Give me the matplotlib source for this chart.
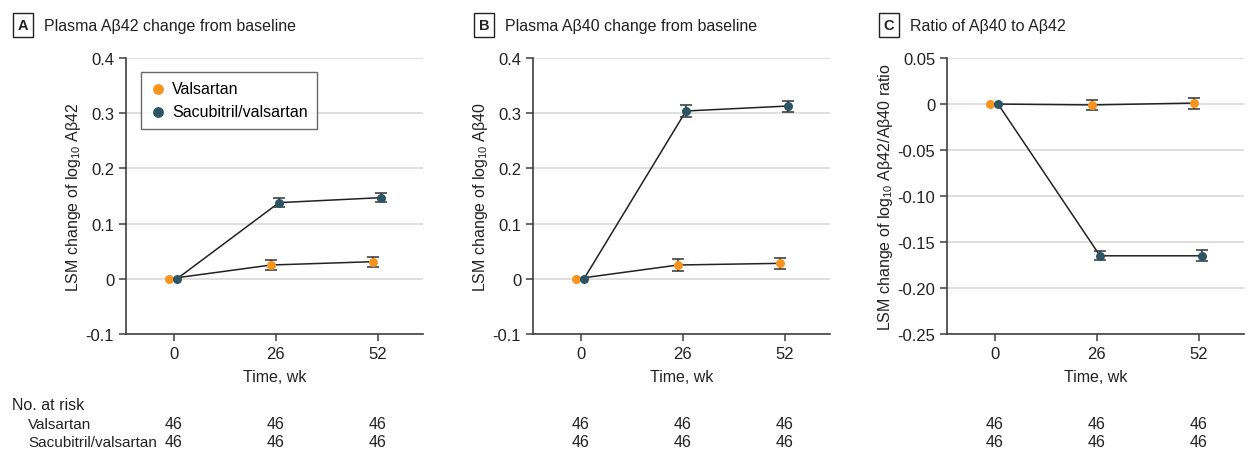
import matplotlib.pyplot as plt
from matplotlib import font_manager
import numpy as np

weeks = [0, 26, 52]
at_risk_val = [46, 46, 46]
at_risk_sac = [46, 46, 46]

# panel A: plasma Abeta42
a_val = [0.0, 0.025, 0.031]
a_val_err = [0.0, 0.009, 0.009]
a_sac = [0.0, 0.138, 0.147]
a_sac_err = [0.0, 0.008, 0.008]

# panel B: plasma Abeta40
b_val = [0.0, 0.025, 0.028]
b_val_err = [0.0, 0.011, 0.010]
b_sac = [0.0, 0.304, 0.313]
b_sac_err = [0.0, 0.011, 0.010]

# panel C: ratio
c_val = [0.0, -0.001, 0.001]
c_val_err = [0.0, 0.005, 0.006]
c_sac = [0.0, -0.165, -0.165]
c_sac_err = [0.0, 0.005, 0.006]

names = set(f.name for f in font_manager.fontManager.ttflist)
fam = 'Liberation Sans Narrow' if 'Liberation Sans Narrow' in names else 'Liberation Sans'
plt.rcParams['font.family'] = [fam, 'DejaVu Sans']
plt.rcParams['mathtext.fontset'] = 'custom'
plt.rcParams['mathtext.rm'] = fam

ORANGE = '#F7941D'
TEAL = '#2B5564'
GRID = '#dcdcdc'
AX = '#404040'
TXT = '#222222'
FS = 11.5

fig = plt.figure(figsize=(12.48, 4.64), dpi=100)

panels = [
    ('A', 'Plasma Aβ42 change from baseline', 'LSM change of log$_{10}$ Aβ42',
     a_val, a_val_err, a_sac, a_sac_err,
     [-0.1, 0, 0.1, 0.2, 0.3, 0.4], ['-0.1', '0', '0.1', '0.2', '0.3', '0.4'], (-0.1, 0.4)),
    ('B', 'Plasma Aβ40 change from baseline', 'LSM change of log$_{10}$ Aβ40',
     b_val, b_val_err, b_sac, b_sac_err,
     [-0.1, 0, 0.1, 0.2, 0.3, 0.4], ['-0.1', '0', '0.1', '0.2', '0.3', '0.4'], (-0.1, 0.4)),
    ('C', 'Ratio of Aβ40 to Aβ42', 'LSM change of log$_{10}$ Aβ42/Aβ40 ratio',
     c_val, c_val_err, c_sac, c_sac_err,
     [-0.25, -0.2, -0.15, -0.1, -0.05, 0, 0.05],
     ['-0.25', '-0.20', '-0.15', '-0.10', '-0.05', '0', '0.05'], (-0.25, 0.05)),
]
lefts = [126 / 1248, 533 / 1248, 947 / 1248]
box_x = [12 / 1248, 473 / 1248, 878 / 1248]

for i, (lab, title, ylab, v, ve, s, se, yt, ytl, ylim) in enumerate(panels):
    ax = fig.add_axes([lefts[i], 1 - 335 / 464, 297 / 1248, 276 / 464])
    xv = np.array(weeks) - 1.2
    xs = np.array(weeks) + 0.8
    ax.plot(xv, v, color=TXT, lw=1.1, zorder=2)
    ax.plot(xs, s, color=TXT, lw=1.1, zorder=2)
    ax.errorbar(xv[1:], v[1:], yerr=ve[1:], fmt='none', ecolor='#333333',
                elinewidth=1.1, capsize=4, capthick=1.1, zorder=3)
    ax.errorbar(xs[1:], s[1:], yerr=se[1:], fmt='none', ecolor='#333333',
                elinewidth=1.1, capsize=4, capthick=1.1, zorder=3)
    ax.scatter(xv, v, s=42, color=ORANGE, zorder=4, linewidths=0, label='Valsartan')
    ax.scatter(xs, s, s=42, color=TEAL, zorder=4, linewidths=0, label='Sacubitril/valsartan')

    ax.set_xlim(-12.2, 63.5)
    ax.set_ylim(*ylim)
    ax.set_xticks(weeks)
    ax.set_xticklabels([str(w) for w in weeks])
    ax.set_yticks(yt)
    ax.set_yticklabels(ytl)
    ax.grid(axis='y', color=GRID, lw=1.3, zorder=0)
    ax.set_axisbelow(True)
    for sp in ['top', 'right']:
        ax.spines[sp].set_visible(False)
    for sp in ['left', 'bottom']:
        ax.spines[sp].set_color(AX)
        ax.spines[sp].set_linewidth(1.2)
    ax.tick_params(colors=AX, labelcolor=TXT, labelsize=12, length=5, width=1.1)
    ax.set_xlabel('Time, wk', fontsize=FS, color=TXT, labelpad=6)
    ax.set_ylabel(ylab, fontsize=FS, color=TXT, labelpad=2)

    fig.text(box_x[i] + 11 / 1248, 1 - 26 / 464, lab, fontsize=10.5, fontweight='bold',
             ha='center', va='center', color=TXT,
             bbox=dict(boxstyle='square,pad=0.35', fc='white', ec=TXT, lw=1))
    fig.text(box_x[i] + 32 / 1248, 1 - 26 / 464, title, fontsize=11.5, ha='left',
             va='center', color=TXT)

    # number at risk
    for j, w in enumerate(weeks):
        xf = lefts[i] + (w + 12.2) / (63.5 + 12.2) * 297 / 1248
        fig.text(xf, 1 - 425 / 464, str(at_risk_val[j]), fontsize=FS,
                 ha='center', va='center', color=TXT)
        fig.text(xf, 1 - 443 / 464, str(at_risk_sac[j]), fontsize=FS,
                 ha='center', va='center', color=TXT)

    if i == 0:
        leg = ax.legend(loc='upper left', bbox_to_anchor=(0.05, 0.95), fontsize=11.5,
                        frameon=True, fancybox=False, handletextpad=0.35,
                        borderpad=0.6, labelspacing=0.5, handlelength=1.0,
                        markerscale=1.2, borderaxespad=0)
        leg.get_frame().set_edgecolor('#444444')
        leg.get_frame().set_linewidth(1.0)

fig.text(12 / 1248, 1 - 406 / 464, 'No. at risk', fontsize=FS, va='center', color=TXT)
fig.text(28 / 1248, 1 - 425 / 464, 'Valsartan', fontsize=11, va='center', color=TXT)
fig.text(28 / 1248, 1 - 443 / 464, 'Sacubitril/valsartan', fontsize=11, va='center', color=TXT)

plt.savefig('out.png', dpi=100)
